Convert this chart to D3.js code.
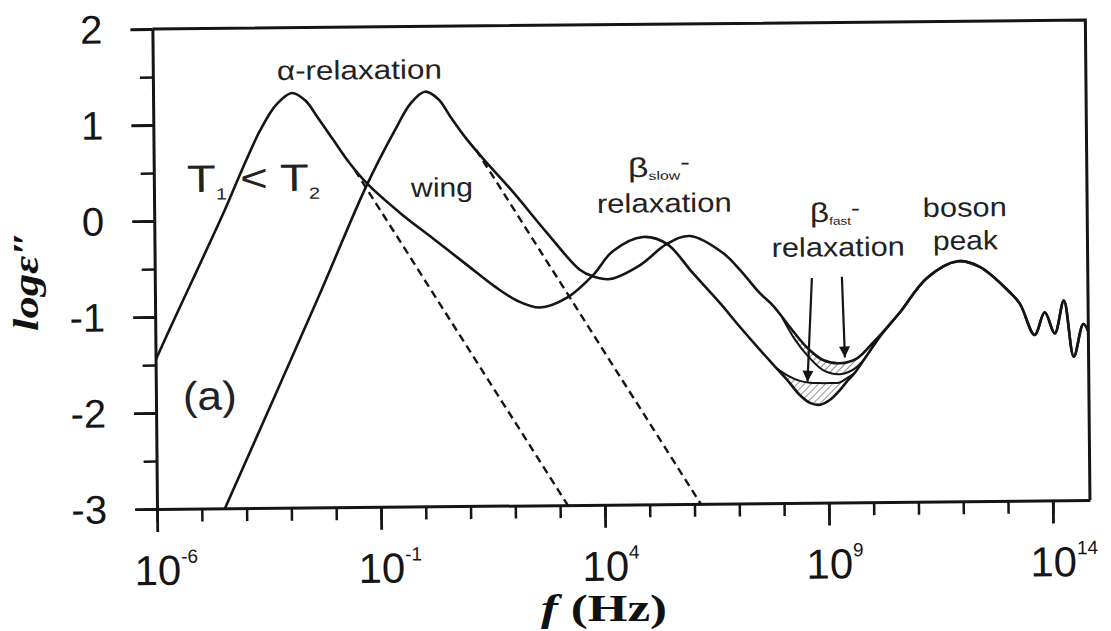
<!DOCTYPE html>
<html>
<head>
<meta charset="utf-8">
<script src="https://d3js.org/d3.v7.min.js"></script>
<title>loss spectrum sketch</title>
<style>
  body { margin: 0; background: #fff; }
  svg { display: block; }
</style>
</head>
<body>
<svg id="spectrum" width="1111" height="631"></svg>
<script>
// values: [log10(f/Hz), log eps'']
const lowT = [
  [-6.0, -1.45], [-5.67, -1.12], [-4.42, 0.11], [-4.12, 0.43], [-3.62, 0.93],
  [-3.25, 1.20], [-2.90, 1.32], [-2.60, 1.24], [-2.34, 1.07], [-1.99, 0.83],
  [-1.62, 0.58], [-1.22, 0.36], [-0.51, 0.06], [0.22, -0.21], [0.95, -0.48],
  [1.60, -0.72], [2.10, -0.87], [2.59, -0.94], [3.20, -0.84], [3.78, -0.61],
  [4.23, -0.36], [4.91, -0.215], [5.44, -0.29], [6.01, -0.595], [6.61, -0.91],
  [7.05, -1.16], [7.49, -1.40], [7.87, -1.60], [8.10, -1.72], [8.38, -1.88],
  [8.60, -1.96], [8.83, -1.98], [9.05, -1.93], [9.27, -1.83], [9.45, -1.73],
  [9.61, -1.65], [10.17, -1.28]
];
const highT = [
  [-4.55, -3.07], [-2.38, -0.84], [-1.25, 0.35], [-0.61, 0.92], [-0.25, 1.20],
  [0.07, 1.32], [0.37, 1.24], [0.63, 1.06], [0.98, 0.83], [1.35, 0.62],
  [2.01, 0.27], [2.76, -0.16], [3.49, -0.55], [3.78, -0.62], [4.16, -0.65],
  [4.83, -0.51], [5.44, -0.29], [5.96, -0.21], [6.69, -0.39], [7.07, -0.57],
  [7.50, -0.81], [7.81, -0.95], [8.17, -1.17], [8.54, -1.38], [8.90, -1.515],
  [9.28, -1.55], [9.66, -1.50], [10.02, -1.34]
];
// shared part: boson peak and the wiggles at the far end
const tail = [
  [10.62, -1.03], [11.24, -0.67], [11.93, -0.50], [12.42, -0.56], [13.09, -0.83],
  [13.31, -0.95], [13.63, -1.275], [13.86, -1.04], [14.08, -1.26], [14.29, -0.92],
  [14.50, -1.505], [14.72, -1.165], [14.86, -1.28]
];
// hatched beta_fast bands: [log f, lower, upper]
const lowTHatch = [
  [7.87, -1.60, -1.60], [8.10, -1.72, -1.67], [8.38, -1.88, -1.73], [8.60, -1.96, -1.75],
  [8.83, -1.98, -1.755], [9.05, -1.93, -1.755], [9.27, -1.83, -1.75], [9.45, -1.73, -1.70],
  [9.61, -1.65, -1.65]
];
const highTHatch = [
  [8.00, -1.07, -1.07], [8.28, -1.30, -1.24], [8.54, -1.46, -1.38], [8.90, -1.62, -1.515],
  [9.28, -1.665, -1.55], [9.66, -1.59, -1.50], [10.02, -1.38, -1.34], [10.20, -1.26, -1.26]
];
// alpha peak without the wing (dashed)
const alphaLowT = [[-1.51, 0.51], [3.25, -3.06]];
const alphaHighT = [[1.20, 0.71], [6.22, -3.06]];
// arrows pointing at the beta_fast bands
const arrows = [
  [[8.67, -0.66], [8.55, -1.74]],
  [[9.34, -0.65], [9.39, -1.49]]
];

const majorExp = [-6, -1, 4, 9, 14];
const minorExp = d3.range(-6, 15);
const yMajor = [-3, -2, -1, 0, 1, 2];
const yMinor = d3.range(-3, 2.01, 0.5);

const svg = d3.select("#spectrum");
const W = +svg.attr("width"), H = +svg.attr("height");
const margin = {left: 157, top: 29, right: 21, bottom: 122};
const ink = "#151515";

const x = d3.scaleLinear().domain([-6, 14.83]).range([margin.left, W - margin.right]);
const y = d3.scaleLinear().domain([-3, 2]).range([H - margin.bottom, margin.top]);

svg.append("rect").attr("width", W).attr("height", H).attr("fill", "#fff");

const defs = svg.append("defs");
defs.append("clipPath").attr("id", "plotclip")
  .append("rect")
  .attr("x", x(-6)).attr("y", y(2))
  .attr("width", x(14.83) - x(-6)).attr("height", y(-3) - y(2));
defs.append("pattern").attr("id", "hatch")
  .attr("patternUnits", "userSpaceOnUse")
  .attr("width", 5).attr("height", 5)
  .attr("patternTransform", "rotate(45)")
  .append("line")
  .attr("x1", 0).attr("y1", 0).attr("x2", 0).attr("y2", 5)
  .attr("stroke", "#555").attr("stroke-width", 1.3);
defs.append("marker").attr("id", "head")
  .attr("viewBox", "0 0 10 10").attr("refX", 10).attr("refY", 5)
  .attr("markerUnits", "userSpaceOnUse")
  .attr("markerWidth", 15).attr("markerHeight", 11)
  .attr("orient", "auto")
  .append("path").attr("d", "M0,0L10,5L0,10z").attr("fill", ink);

// the scanned figure sits slightly tilted
const plot = svg.append("g")
  .attr("transform", `rotate(-0.55, ${x(-6)}, ${y(-3)})`);

// axes
function styleAxis(g, width) {
  g.selectAll("line").attr("stroke", ink).attr("stroke-width", width);
  g.select(".domain").attr("stroke", ink).attr("stroke-width", 3);
}
plot.append("g").attr("transform", `translate(0,${y(-3)})`)
  .call(d3.axisBottom(x).tickValues(minorExp).tickSize(13).tickSizeOuter(0).tickFormat(""))
  .call(g => styleAxis(g, 2.5));
plot.append("g").attr("transform", `translate(0,${y(-3)})`)
  .call(d3.axisBottom(x).tickValues(majorExp).tickSize(23).tickFormat(""))
  .call(g => g.select(".domain").remove())
  .call(g => styleAxis(g, 2.8));
plot.append("g").attr("transform", `translate(${x(-6)},0)`)
  .call(d3.axisLeft(y).tickValues(yMinor).tickSize(13).tickSizeOuter(0).tickFormat(""))
  .call(g => styleAxis(g, 2.5));
plot.append("g").attr("transform", `translate(${x(-6)},0)`)
  .call(d3.axisLeft(y).tickValues(yMajor).tickSize(22).tickFormat(""))
  .call(g => g.select(".domain").remove())
  .call(g => styleAxis(g, 2.8));
plot.append("path")
  .attr("d", `M${x(-6)},${y(2)}H${x(14.83)}V${y(-3)}`)
  .attr("fill", "none").attr("stroke", ink).attr("stroke-width", 3);

// tick labels
plot.selectAll("text.ylab").data(yMajor).join("text")
  .attr("class", "ylab")
  .attr("x", x(-6) - 50).attr("y", d => y(d))
  .attr("text-anchor", "end").attr("dominant-baseline", "central")
  .attr("font-family", "Liberation Sans, Arial, sans-serif")
  .attr("font-size", 40).attr("fill", ink)
  .text(d => d < 0 ? "-" + (-d) : d);

const xl = plot.selectAll("text.xlab").data(majorExp).join("text")
  .attr("class", "xlab")
  .attr("x", d => x(d) - 23).attr("y", y(-3) + 76)
  .attr("font-family", "Liberation Sans, Arial, sans-serif")
  .attr("font-size", 42).attr("fill", ink);
xl.append("tspan").text("10");
xl.append("tspan").attr("dy", -22).attr("font-size", 19)
  .text(d => d < 0 ? "-" + (-d) : d);

// curves
const line = d3.line().x(d => x(d[0])).y(d => y(d[1]))
  .curve(d3.curveCatmullRom.alpha(0.5));
const band = d3.area().x(d => x(d[0])).y0(d => y(d[1])).y1(d => y(d[2]))
  .curve(d3.curveCatmullRom.alpha(0.5));

const curves = plot.append("g").attr("clip-path", "url(#plotclip)");

[lowTHatch, highTHatch].forEach(h => {
  curves.append("path").attr("d", band(h))
    .attr("fill", "url(#hatch)").attr("stroke", "none");
});
curves.append("path").attr("d", line(lowTHatch.map(d => [d[0], d[2]])))
  .attr("fill", "none").attr("stroke", ink).attr("stroke-width", 2);
curves.append("path").attr("d", line(highTHatch.map(d => [d[0], d[1]])))
  .attr("fill", "none").attr("stroke", ink).attr("stroke-width", 2);

[lowT.concat(tail), highT.concat(tail)].forEach(c => {
  curves.append("path").attr("d", line(c))
    .attr("fill", "none").attr("stroke", ink).attr("stroke-width", 2.6);
});

[alphaLowT, alphaHighT].forEach(c => {
  curves.append("path").attr("d", d3.line().x(d => x(d[0])).y(d => y(d[1]))(c))
    .attr("fill", "none").attr("stroke", ink).attr("stroke-width", 2.4)
    .attr("stroke-dasharray", "8,5");
});

plot.selectAll("path.arrow").data(arrows).join("path")
  .attr("class", "arrow")
  .attr("d", d => d3.line().x(p => x(p[0])).y(p => y(p[1]))(d))
  .attr("fill", "none").attr("stroke", ink).attr("stroke-width", 2.2)
  .attr("marker-end", "url(#head)");

// annotations
function label(at, parts, size, len) {
  const t = plot.append("text")
    .attr("x", x(at[0])).attr("y", y(at[1]))
    .attr("font-family", "Liberation Sans, Arial, sans-serif")
    .attr("font-size", size).attr("fill", "#222");
  parts.forEach(p => {
    const s = t.append("tspan").text(p.t);
    if (p.size) s.attr("font-size", p.size);
    if (p.dy) s.attr("dy", p.dy);
  });
  if (len) t.attr("textLength", len).attr("lengthAdjust", "spacingAndGlyphs");
  return t;
}
label([-3.23, 1.456], [{t: "α-relaxation"}], 27, 165);
label([-5.26, 0.30], [
  {t: "T"}, {t: "1", size: 16, dy: 8}, {t: " < ", dy: -8},
  {t: "T"}, {t: "2", size: 16, dy: 8}
], 38, 133);
label([-0.26, 0.225], [{t: "wing"}], 27, 62);
label([4.585, 0.41], [
  {t: "β"}, {t: "slow", size: 12, dy: 3}, {t: "-", size: 22, dy: -10}
], 27, 62);
label([3.885, 0.04], [{t: "relaxation"}], 27, 135);
label([8.64, -0.076], [
  {t: "β"}, {t: "fast", size: 11, dy: 3}, {t: "-", size: 22, dy: -9}
], 27, 50);
label([7.78, -0.436], [{t: "relaxation"}], 27, 133);
label([11.16, -0.035], [{t: "boson"}], 27, 84);
label([11.38, -0.379], [{t: "peak"}], 27, 65);
label([-5.40, -1.97], [{t: "(a)"}], 40, 54);

// axis titles (added on top of the scan, not tilted)
svg.append("text")
  .attr("transform", "translate(38,281) rotate(-90)")
  .attr("text-anchor", "middle")
  .attr("font-family", "Liberation Serif, Times New Roman, serif")
  .attr("font-weight", "bold").attr("font-style", "italic")
  .attr("font-size", 36).attr("fill", "#111")
  .attr("textLength", 100).attr("lengthAdjust", "spacingAndGlyphs")
  .text("logε\u2033");

const xt = svg.append("text")
  .attr("x", 604).attr("y", 621)
  .attr("text-anchor", "middle")
  .attr("font-family", "Liberation Serif, Times New Roman, serif")
  .attr("font-weight", "bold")
  .attr("font-size", 38).attr("fill", "#111")
  .attr("textLength", 126).attr("lengthAdjust", "spacingAndGlyphs");
xt.append("tspan").attr("font-style", "italic").text("f");
xt.append("tspan").text(" (Hz)");
</script>
</body>
</html>
